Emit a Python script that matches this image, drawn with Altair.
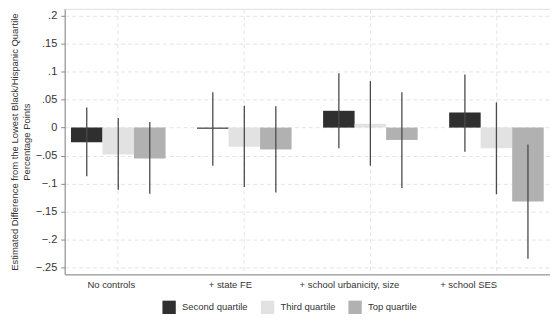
import altair as alt
import pandas as pd

categories = ["No controls", "+ state FE", "+ school urbanicity, size", "+ school SES"]
quartiles = ["Second quartile", "Third quartile", "Top quartile"]

# estimates per quartile (one value per category)
second_est = [-0.026, -0.002, 0.030, 0.027]
third_est = [-0.048, -0.034, 0.007, -0.037]
top_est = [-0.055, -0.039, -0.022, -0.132]

second_lo = [-0.087, -0.068, -0.037, -0.043]
second_hi = [0.036, 0.063, 0.097, 0.095]
third_lo = [-0.111, -0.106, -0.068, -0.119]
third_hi = [0.017, 0.039, 0.083, 0.045]
top_lo = [-0.118, -0.116, -0.108, -0.234]
top_hi = [0.010, 0.038, 0.063, -0.030]

y_ticks = [0.2, 0.15, 0.1, 0.05, 0, -0.05, -0.1, -0.15, -0.2, -0.25]
colors = ["#2f2f2f", "#e2e2e2", "#b1b1b1"]
y_title = ["Estimated Difference from the Lowest Black/Hispanic Quartile", "Percentage Points"]

rows = []
for q, est, lo, hi in zip(quartiles,
                          [second_est, third_est, top_est],
                          [second_lo, third_lo, top_lo],
                          [second_hi, third_hi, top_hi]):
    for c, e, l, h in zip(categories, est, lo, hi):
        rows.append({"group": c, "quartile": q, "value": e, "lo": l, "hi": h})
df = pd.DataFrame(rows)

x_enc = alt.X(
    "group:N", sort=categories, title=None,
    scale=alt.Scale(paddingInner=0.25, paddingOuter=0.05),
    axis=alt.Axis(
        labelAngle=0, tickSize=0, grid=True, gridDash=[4, 3], gridColor="#e4e4e4",
        domainColor="#8a8a8a", labelFontSize=9.5, labelColor="#333333",
        labelPadding=5, labelOffset=alt.ExprRef(expr="-7 - 21*datum.index"),
    ),
)
xoff = alt.XOffset("quartile:N", sort=quartiles)
y_scale = alt.Scale(domain=[-0.262, 0.212], nice=False, zero=False)
y_axis = alt.Axis(
    values=y_ticks, labelOverlap=False, labelFlush=False, labelBound=False,
    labelExpr="replace(format(datum.value, ''), '0.', '.')",
    grid=True, gridDash=[4, 3], gridColor="#e4e4e4",
    domainColor="#8a8a8a", tickColor="#8a8a8a", tickSize=4,
    labelFontSize=11, labelColor="#333333", labelPadding=4,
    titleFontSize=9.5, titleFontWeight="normal", titleColor="#333333",
    titlePadding=4,
)

bars = alt.Chart().mark_bar().encode(
    x=x_enc,
    xOffset=xoff,
    y=alt.Y("value:Q", scale=y_scale, title=y_title, axis=y_axis),
    y2=alt.datum(0),
    color=alt.Color(
        "quartile:N", sort=quartiles,
        scale=alt.Scale(domain=quartiles, range=colors),
        legend=alt.Legend(
            title=None, orient="none", direction="horizontal",
            legendX=98, legendY=293, symbolType="square", symbolSize=180,
            symbolStrokeWidth=0, labelFontSize=9.5, labelColor="#333333",
            columnPadding=12, labelOffset=6,
        ),
    ),
)

rules = alt.Chart().mark_rule(color="#4a4a4a", strokeWidth=1.3).encode(
    x=x_enc,
    xOffset=xoff,
    y=alt.Y("lo:Q", scale=y_scale, title=y_title, axis=y_axis),
    y2="hi:Q",
)

chart = alt.layer(bars, rules, data=df).properties(
    width=488, height=267,
    padding={"left": 1, "top": 0, "right": 0, "bottom": 0},
).configure_view(stroke=None).configure(font="Liberation Sans").configure_axisY(
    labelOverlap=False
)

chart.save("out.html", embed_options={"renderer": "svg", "actions": False})
